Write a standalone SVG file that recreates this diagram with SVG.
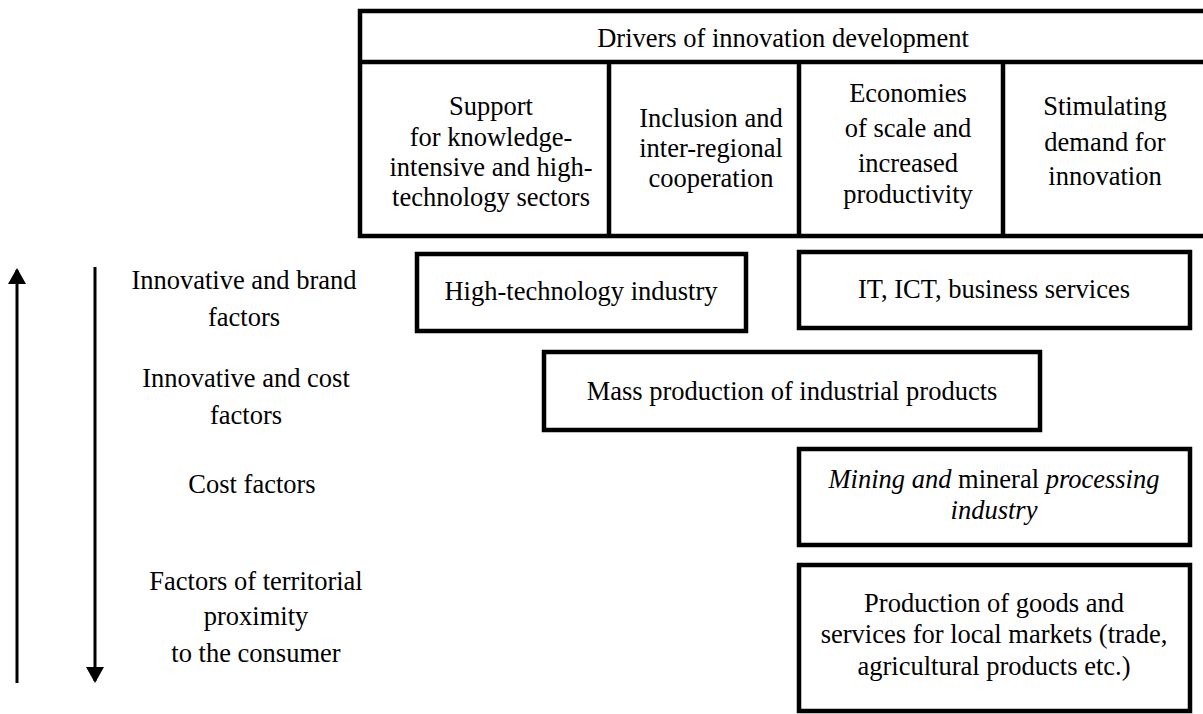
<svg xmlns="http://www.w3.org/2000/svg" width="1203" height="714" viewBox="0 0 1203 714" font-family="'Liberation Serif', 'DejaVu Serif', serif">
  <style>
    text { font-family: 'Liberation Serif', 'DejaVu Serif', serif; font-size: 26.5px; fill: #000; text-anchor: middle; }
    .box { fill: #fff; stroke: #000; stroke-width: 4.5; }
    .div { stroke: #000; stroke-width: 4.5; fill: none; }
    .arr { stroke: #000; stroke-width: 3; fill: none; }
    .it { font-style: italic; }
  </style>
  <defs>
    <marker id="ah" viewBox="0 0 16 18" refX="14" refY="9" markerWidth="16" markerHeight="18" orient="auto" markerUnits="userSpaceOnUse">
      <path d="M0,0 L16,9 L0,18 z" fill="#000"/>
    </marker>
  </defs>

  <g id="drivers-table">
    <rect class="box" x="360" y="11" width="860" height="225"/>
    <line class="div" x1="360" y1="62" x2="1210" y2="62"/>
    <line class="div" x1="609" y1="62" x2="609" y2="236"/>
    <line class="div" x1="799" y1="62" x2="799" y2="236"/>
    <line class="div" x1="1003" y1="62" x2="1003" y2="236"/>
    <text x="783" y="47">Drivers of innovation development</text>
  </g>
  <g id="driver-support">
    <text x="491" y="115">Support</text>
    <text x="491" y="146">for knowledge-</text>
    <text x="491" y="176">intensive and high-</text>
    <text x="491" y="206">technology sectors</text>
  </g>
  <g id="driver-inclusion">
    <text x="711" y="127">Inclusion and</text>
    <text x="711" y="157">inter-regional</text>
    <text x="711" y="187">cooperation</text>
  </g>
  <g id="driver-economies">
    <text x="908" y="102">Economies</text>
    <text x="908" y="137">of scale and</text>
    <text x="908" y="172">increased</text>
    <text x="908" y="203">productivity</text>
  </g>
  <g id="driver-demand">
    <text x="1105" y="115">Stimulating</text>
    <text x="1105" y="151">demand for</text>
    <text x="1105" y="185">innovation</text>
  </g>

  <g id="label-brand">
    <text x="244" y="289">Innovative and brand</text>
    <text x="244" y="326">factors</text>
  </g>
  <g id="label-innov-cost">
    <text x="246" y="387">Innovative and cost</text>
    <text x="246" y="424">factors</text>
  </g>
  <g id="label-cost">
    <text x="252" y="493">Cost factors</text>
  </g>
  <g id="label-proximity">
    <text x="256" y="590">Factors of territorial</text>
    <text x="256" y="625">proximity</text>
    <text x="256" y="662">to the consumer</text>
  </g>

  <g id="high-tech">
    <rect class="box" x="417" y="254" width="329" height="77"/>
    <text x="581" y="300">High-technology industry</text>
  </g>
  <g id="it-ict">
    <rect class="box" x="799" y="252" width="391" height="76"/>
    <text x="994" y="298">IT, ICT, business services</text>
  </g>
  <g id="mass-production">
    <rect class="box" x="544" y="352" width="496" height="78"/>
    <text x="792" y="400">Mass production of industrial products</text>
  </g>
  <g id="mining">
    <rect class="box" x="799" y="449" width="391" height="96"/>
    <text x="994" y="488"><tspan class="it">Mining and</tspan> mineral <tspan class="it">processing</tspan></text>
    <text x="994" y="519" class="it">industry</text>
  </g>
  <g id="local-markets">
    <rect class="box" x="799" y="565" width="391" height="146"/>
    <text x="994" y="612">Production of goods and</text>
    <text x="994" y="643">services for local markets (trade,</text>
    <text x="994" y="675">agricultural products etc.)</text>
  </g>

  <g id="connectors">
    <line class="arr" x1="17" y1="683" x2="17" y2="270" marker-end="url(#ah)"/>
    <line class="arr" x1="95" y1="267" x2="95" y2="681" marker-end="url(#ah)"/>
  </g>
</svg>
